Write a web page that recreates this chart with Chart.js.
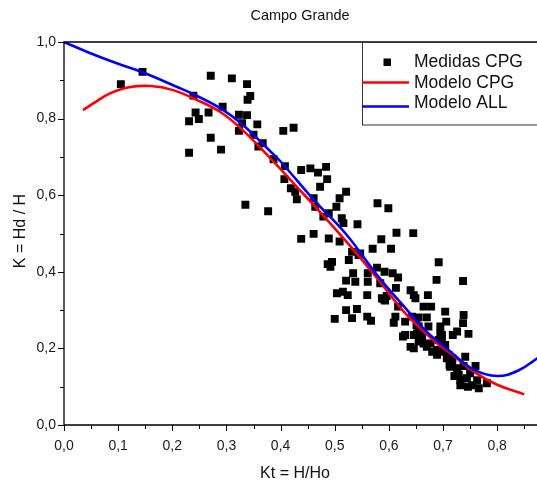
<!DOCTYPE html>
<html>
<head>
<meta charset="utf-8">
<script src="https://cdn.jsdelivr.net/npm/chart.js@4.4.1/dist/chart.umd.min.js"></script>
<style>
html,body{margin:0;padding:0;background:#fff;}
canvas{display:block;}
</style>
</head>
<body>
<canvas id="c" width="537" height="489"></canvas>
<script>
// ---- data ----
const chartTitle = 'Campo Grande';
const xTitle = 'Kt = H/Ho';
const yTitle = 'K = Hd / H';
const seriesNames = ['Medidas CPG', 'Modelo CPG', 'Modelo ALL'];

const xTicks = [0.0, 0.1, 0.2, 0.3, 0.4, 0.5, 0.6, 0.7, 0.8];
const xMinorTicks = [0.05, 0.15, 0.25, 0.35, 0.45, 0.55, 0.65, 0.75, 0.85];
const yTicks = [0.0, 0.2, 0.4, 0.6, 0.8, 1.0];
const yMinorTicks = [0.1, 0.3, 0.5, 0.7, 0.9];

// measured points (Kt, K)
const measKt = [
0.105,0.145,0.239,0.243,0.249,0.231,0.231,0.267,0.271,0.310,0.338,0.344,0.339,0.293,0.323,0.338,0.329,0.357,0.323,0.350,
0.367,0.359,0.271,0.290,0.335,0.377,0.405,0.424,0.387,0.408,0.438,0.455,0.469,0.484,0.486,0.473,0.407,0.419,0.427,0.430,
0.461,0.464,0.521,0.509,0.503,0.489,0.479,0.513,0.516,0.542,0.579,0.599,0.438,0.461,0.489,0.509,0.532,0.547,0.526,0.495,
0.487,0.492,0.534,0.561,0.521,0.538,0.561,0.504,0.515,0.524,0.560,0.521,0.541,0.500,0.532,0.560,0.614,0.645,0.586,0.570,
0.604,0.692,0.688,0.737,0.578,0.592,0.607,0.617,0.584,0.613,0.640,0.646,0.649,0.587,0.593,0.596,0.617,0.672,0.664,0.678,
0.704,0.706,0.695,0.670,0.655,0.643,0.612,0.609,0.567,0.630,0.655,0.673,0.630,0.646,0.661,0.698,0.718,0.726,0.738,0.737,
0.747,0.626,0.661,0.677,0.698,0.704,0.646,0.640,0.670,0.680,0.689,0.701,0.710,0.717,0.741,0.712,0.726,0.738,0.760,0.721,
0.732,0.744,0.754,0.766,0.732,0.746,0.781,0.729,0.750,0.763,0.655,0.664,0.692,0.689,0.698,0.707,0.717,0.713,0.652,0.695,
0.651,0.544,0.590
];
const measK = [
0.890,0.922,0.860,0.816,0.799,0.793,0.711,0.816,0.912,0.905,0.890,0.859,0.849,0.831,0.810,0.809,0.788,0.785,0.768,0.758,
0.736,0.727,0.750,0.719,0.575,0.558,0.768,0.776,0.694,0.676,0.666,0.670,0.659,0.674,0.642,0.622,0.642,0.618,0.609,0.589,
0.592,0.570,0.609,0.592,0.570,0.553,0.544,0.540,0.527,0.524,0.579,0.566,0.486,0.499,0.487,0.479,0.452,0.448,0.431,0.426,
0.420,0.413,0.396,0.396,0.377,0.374,0.374,0.344,0.348,0.339,0.339,0.300,0.303,0.277,0.279,0.283,0.502,0.501,0.485,0.460,
0.460,0.425,0.379,0.376,0.411,0.400,0.396,0.385,0.370,0.358,0.352,0.339,0.331,0.331,0.325,0.337,0.309,0.339,0.309,0.309,
0.296,0.270,0.257,0.281,0.281,0.283,0.283,0.267,0.272,0.270,0.257,0.257,0.235,0.235,0.235,0.235,0.235,0.244,0.287,0.266,
0.238,0.231,0.222,0.213,0.218,0.209,0.200,0.204,0.204,0.191,0.183,0.191,0.183,0.174,0.178,0.157,0.148,0.154,0.154,0.128,
0.117,0.122,0.104,0.096,0.104,0.100,0.109,0.131,0.135,0.117,0.218,0.213,0.222,0.196,0.200,0.174,0.161,0.152,0.239,0.239,
0.261,0.444,0.328
];

// Modelo CPG (red curve)
const cpgKt = [0.035, 0.06, 0.085, 0.12, 0.16, 0.20, 0.245, 0.29, 0.33, 0.38, 0.43, 0.48, 0.53, 0.58, 0.63, 0.68, 0.72, 0.76, 0.80, 0.85];
const cpgK  = [0.822, 0.845, 0.866, 0.882, 0.885, 0.875, 0.849, 0.816, 0.770, 0.698, 0.622, 0.545, 0.465, 0.380, 0.292, 0.224, 0.180, 0.136, 0.105, 0.080];

// Modelo ALL (blue curve)
const allKt = [0.00, 0.05, 0.10, 0.145, 0.21, 0.24, 0.29, 0.33, 0.38, 0.40, 0.46, 0.52, 0.58, 0.635, 0.67, 0.71, 0.755, 0.80, 0.84, 0.875];
const allK  = [1.000, 0.970, 0.943, 0.921, 0.882, 0.863, 0.826, 0.784, 0.716, 0.688, 0.590, 0.500, 0.388, 0.298, 0.243, 0.196, 0.146, 0.128, 0.143, 0.175];

// ---- build chart ----
const toXY = (xs, ys) => xs.map((x, i) => ({x: x, y: ys[i]}));
const FONT = '"Liberation Sans", Arial, sans-serif';
const fmt = v => Number(v).toFixed(1).replace('.', ',');

const decor = {
  id: 'decor',
  beforeDraw(chart) {
    const c = chart.ctx;
    c.save();
    c.fillStyle = '#fff';
    c.fillRect(0, 0, chart.width, chart.height);
    c.restore();
  },
  afterDraw(chart) {
    const c = chart.ctx, a = chart.chartArea;
    const xs = chart.scales.x, ys = chart.scales.y;
    c.save();
    // frame
    c.strokeStyle = '#000';
    c.lineWidth = 1.3;
    c.beginPath();
    c.moveTo(chart.width + 2, a.top);
    c.lineTo(a.left, a.top);
    c.lineTo(a.left, a.bottom);
    c.lineTo(chart.width + 2, a.bottom);
    c.stroke();
    // ticks
    c.lineWidth = 1;
    c.beginPath();
    xTicks.forEach(v => { const p = Math.round(xs.getPixelForValue(v)) + 0.5; c.moveTo(p, a.bottom); c.lineTo(p, a.bottom + 6); });
    xMinorTicks.forEach(v => { const p = Math.round(xs.getPixelForValue(v)) + 0.5; c.moveTo(p, a.bottom); c.lineTo(p, a.bottom + 4); });
    yTicks.forEach(v => { const p = Math.round(ys.getPixelForValue(v)) + 0.5; c.moveTo(a.left, p); c.lineTo(a.left - 6, p); });
    yMinorTicks.forEach(v => { const p = Math.round(ys.getPixelForValue(v)) + 0.5; c.moveTo(a.left, p); c.lineTo(a.left - 4, p); });
    c.stroke();
    // titles
    c.fillStyle = '#111';
    c.textAlign = 'center';
    c.textBaseline = 'middle';
    c.font = '14.5px ' + FONT;
    c.fillText(chartTitle, 300, 16);
    c.font = '16px ' + FONT;
    c.fillText(xTitle, 295, 474);
    c.save();
    c.translate(21, 231);
    c.rotate(-Math.PI / 2);
    c.fillText(yTitle, 0, 0);
    c.restore();
    // legend
    const lx = 362, ly = 42;
    c.fillStyle = '#fff';
    c.fillRect(lx, ly, 200, 83);
    c.strokeStyle = '#333';
    c.lineWidth = 1;
    c.strokeRect(lx + 0.5, ly + 0.5, 200, 82.5);
    c.fillStyle = '#000';
    c.fillRect(383.5, 58.5, 7.5, 7.5);
    c.lineWidth = 2.5;
    c.strokeStyle = '#ff0000';
    c.beginPath(); c.moveTo(lx, 82.5); c.lineTo(409, 82.5); c.stroke();
    c.strokeStyle = '#0000ff';
    c.beginPath(); c.moveTo(lx, 106.5); c.lineTo(409, 106.5); c.stroke();
    c.fillStyle = '#111';
    c.textAlign = 'left';
    c.font = '17.5px ' + FONT;
    c.fillText(seriesNames[0], 414, 62.5);
    c.fillText(seriesNames[1], 414, 83.5);
    c.fillText(seriesNames[2], 414, 103.5);
    c.restore();
  }
};

const lineClip = { left: 0, top: 0, right: 8, bottom: 0 };

new Chart(document.getElementById('c'), {
  type: 'scatter',
  data: {
    datasets: [
      {
        label: seriesNames[0],
        data: toXY(measKt, measK),
        pointStyle: 'rect',
        pointRadius: 5.6,
        backgroundColor: '#000',
        borderColor: '#000',
        borderWidth: 0,
        showLine: false,
        order: 3
      },
      {
        label: seriesNames[1],
        data: toXY(cpgKt, cpgK),
        showLine: true,
        borderColor: '#ff0000',
        borderWidth: 2.6,
        pointRadius: 0,
        tension: 0.4,
        clip: lineClip,
        order: 2
      },
      {
        label: seriesNames[2],
        data: toXY(allKt, allK),
        showLine: true,
        borderColor: '#0000ff',
        borderWidth: 2.6,
        pointRadius: 0,
        tension: 0.4,
        clip: lineClip,
        order: 1
      }
    ]
  },
  options: {
    responsive: false,
    animation: false,
    devicePixelRatio: 1,
    layout: { padding: { top: 42, left: 0, right: 0, bottom: 0 } },
    plugins: { legend: { display: false }, title: { display: false }, tooltip: { enabled: false } },
    scales: {
      x: {
        type: 'linear', min: 0, max: 0.8632,
        grid: { display: false }, border: { display: false },
        afterBuildTicks: s => { s.ticks = xTicks.map(v => ({ value: v })); },
        afterFit: s => { s.height = 64; },
        ticks: { callback: v => fmt(v), color: '#1a1a1a', font: { family: FONT, size: 14 }, padding: 5, maxRotation: 0, autoSkip: false }
      },
      y: {
        type: 'linear', min: 0, max: 1,
        grid: { display: false }, border: { display: false },
        afterBuildTicks: s => { s.ticks = yTicks.map(v => ({ value: v })); },
        afterFit: s => { s.width = 64; },
        ticks: { callback: v => fmt(v), color: '#1a1a1a', font: { family: FONT, size: 14 }, padding: 0, autoSkip: false }
      }
    }
  },
  plugins: [decor]
});
</script>
</body>
</html>
